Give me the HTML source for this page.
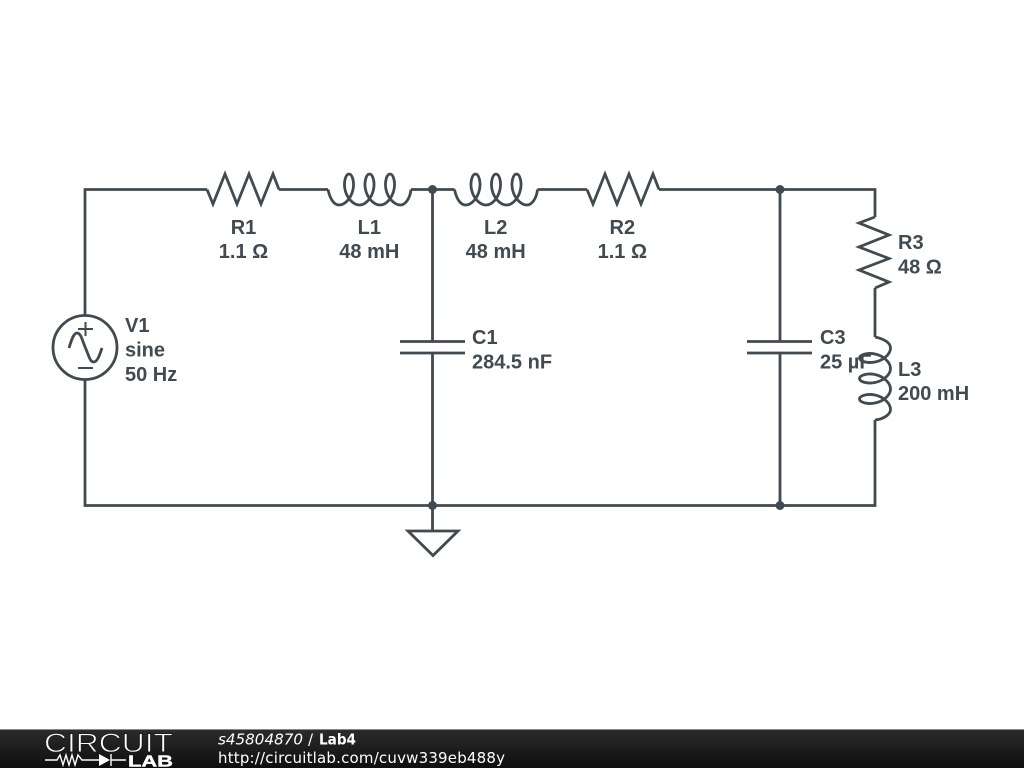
<!DOCTYPE html>
<html><head><meta charset="utf-8"><style>
html,body{margin:0;padding:0;background:#fff;width:1024px;height:768px;overflow:hidden}
svg{display:block}
.w{fill:none;stroke:#404a50;stroke-width:2.8;stroke-linejoin:miter}
.t{font-family:"Liberation Sans",sans-serif;font-weight:bold;font-size:20px;fill:#404a50}
.m{text-anchor:middle}
.f{font-family:"DejaVu Sans",sans-serif;font-size:15px;fill:#fff}
</style></head><body>
<svg width="1024" height="768" viewBox="0 0 1024 768" xmlns="http://www.w3.org/2000/svg">
<defs>
<linearGradient id="g" x1="0" y1="0" x2="0" y2="1"><stop offset="0" stop-color="#2c2c2c"/><stop offset="1" stop-color="#0e0e0e"/></linearGradient>
<path id="res" d="M207 189.5L213 204L225 174L237 204L249 174L261 204L273 174L279 189.5"/>
<path id="ind" d="M328 189.500C330 199 334 205 339 205c6.380 0 12.330 -7.400 14 -15.500c1.670 -8.100 -0.950 -15.500 -4 -15.500c-3.050 0 -5.670 7.400 -4 15.500c1.670 8.100 8.100 15.500 14.500 15.500c6.380 0 12.330 -7.400 14 -15.500c1.670 -8.100 -0.950 -15.500 -4 -15.500c-3.050 0 -5.670 7.400 -4 15.500c1.670 8.100 8.100 15.500 14.500 15.500c6.380 0 12.330 -7.400 14 -15.500c1.670 -8.100 -0.950 -15.500 -4 -15.500c-3.050 0 -5.670 7.400 -4 15.500c1.670 8.100 8.100 15.500 14.500 15.500C405 205 410 199 411 189.500"/>
</defs>
<rect width="1024" height="768" fill="#fff"/>
<g class="w">
<path d="M85 315V189.500H207M279 189.500H328M411 189.500H454.500M537.500 189.500H587M659 189.500H875V217"/>
<path d="M85 380V505.500H875V420"/>
<path d="M875 288V337"/>
<path d="M432.500 189.500V341.500M432.500 353V531"/>
<path d="M780 189.500V341.500M780 353V505.500"/>
<path d="M400 341.500H465M400 353H465M747 341.500H812M747 353H812"/>
<use href="#res"/>
<use href="#res" x="380"/>
<use href="#ind"/>
<use href="#ind" x="126.500"/>
<path d="M875 217L859 223L889 235L859 247L889 258.500L859 270L889 282L875 288"/>
<path transform="matrix(0 1 1 0 685.500 9)" d="M328 189.500C330 199 334 205 339 205c6.380 0 12.330 -7.400 14 -15.500c1.670 -8.100 -0.950 -15.500 -4 -15.500c-3.050 0 -5.670 7.400 -4 15.500c1.670 8.100 8.100 15.500 14.500 15.500c6.380 0 12.330 -7.400 14 -15.500c1.670 -8.100 -0.950 -15.500 -4 -15.500c-3.050 0 -5.670 7.400 -4 15.500c1.670 8.100 8.100 15.500 14.500 15.500c6.380 0 12.330 -7.400 14 -15.500c1.670 -8.100 -0.950 -15.500 -4 -15.500c-3.050 0 -5.670 7.400 -4 15.500c1.670 8.100 8.100 15.500 14.500 15.500C405 205 410 199 411 189.500"/>
<circle cx="85" cy="347.500" r="32"/>
<path d="M78 329H93M85.500 322V336M78 368H93" stroke-width="2"/>
<path d="M69 348C72 338 74 333 77 333C81 333 82 340 85.500 348C89 356 90 362 93.500 362C97 362 99 357 102 348"/>
<path d="M408 531H458L433 555.500Z"/>
</g>
<g fill="#404a50">
<circle cx="432.500" cy="189.500" r="4.500"/>
<circle cx="780" cy="189.500" r="4.500"/>
<circle cx="432.500" cy="505.500" r="4.500"/>
<circle cx="780" cy="505.500" r="4.500"/>
</g>
<g class="t">
<text class="m" x="243.500" y="234">R1</text><text class="m" x="243.500" y="258">1.1 Ω</text>
<text class="m" x="369.300" y="234">L1</text><text class="m" x="369.300" y="258">48 mH</text>
<text class="m" x="495.700" y="234">L2</text><text class="m" x="495.700" y="258">48 mH</text>
<text class="m" x="622.300" y="234">R2</text><text class="m" x="622.300" y="258">1.1 Ω</text>
<text x="125" y="332">V1</text><text x="125" y="356.500">sine</text><text x="125" y="381">50 Hz</text>
<text x="472" y="344">C1</text><text x="472" y="368.500">284.5 nF</text>
<text x="820" y="344">C3</text><text x="820" y="368.500">25 µF</text>
<text x="898" y="249">R3</text><text x="898" y="273.500">48 Ω</text>
<text x="898" y="376">L3</text><text x="898" y="400">200 mH</text>
</g>
<rect x="0" y="729" width="1024" height="39" fill="url(#g)"/>
<rect x="0" y="729" width="1024" height="1" fill="#8a8a8a"/>
<text x="44" y="752" font-family="Liberation Sans, sans-serif" font-size="27" textLength="129" lengthAdjust="spacingAndGlyphs" fill="#fff" stroke="#1c1c1c" stroke-width="0.9">CIRCUIT</text>
<g fill="none" stroke="#fff" stroke-width="1.400">
<path d="M45 760H57L60 755L63 765L66 755L69 765L72 755L75 765L78 755L82 760H99M111 760H126M111 754V766"/>
</g>
<path d="M99 754L110 760L99 766Z" fill="#fff"/>
<text x="128" y="766.500" font-family="Liberation Sans, sans-serif" font-weight="bold" font-size="15.500" textLength="45" lengthAdjust="spacingAndGlyphs" fill="#fff" stroke="#fff" stroke-width="0.4">LAB</text>
<text class="f" x="218" y="744.500" font-style="italic" textLength="85" lengthAdjust="spacingAndGlyphs">s45804870</text>
<text class="f" x="308" y="744.500">/</text>
<text class="f" x="319" y="744.500" font-weight="bold" textLength="37" lengthAdjust="spacingAndGlyphs">Lab4</text>
<text class="f" x="218" y="763" textLength="287" lengthAdjust="spacing">http://circuitlab.com/cuvw339eb488y</text>
</svg>
</body></html>
